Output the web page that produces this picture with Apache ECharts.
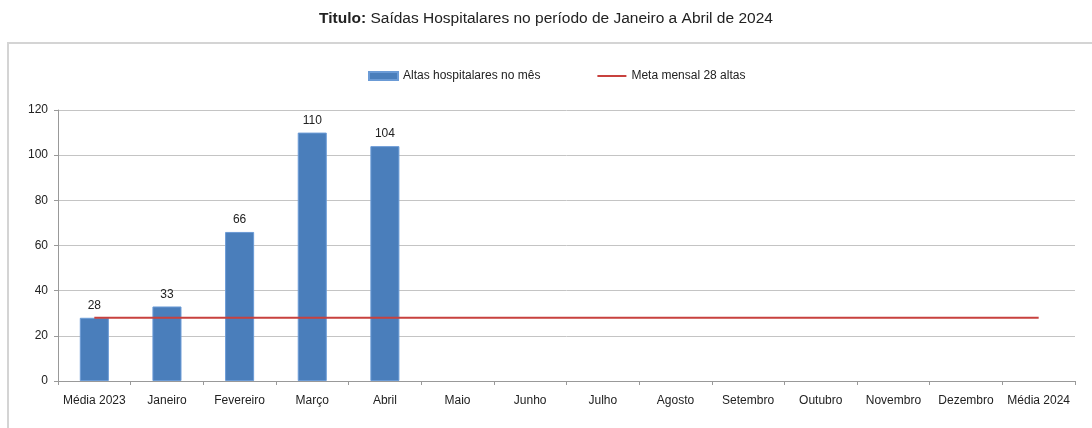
<!DOCTYPE html>
<html>
<head>
    <meta charset="utf-8"/>
    <title>Saídas Hospitalares</title>
    <style>
        html, body { margin: 0; padding: 0; background: #fff; }
        #main { width: 1092px; height: 428px; }
    </style>
</head>
<body>
<div id="main"></div>
<script src="https://cdn.jsdelivr.net/npm/echarts@6/dist/echarts.min.js"></script>
<script>
    // dados
    var meses = ['Média 2023', 'Janeiro', 'Fevereiro', 'Março', 'Abril', 'Maio', 'Junho',
        'Julho', 'Agosto', 'Setembro', 'Outubro', 'Novembro', 'Dezembro', 'Média 2024'];
    var altas = [28, 33, 66, 110, 104, null, null, null, null, null, null, null, null, null];
    var meta = [28, 28, 28, 28, 28, 28, 28, 28, 28, 28, 28, 28, 28, 28];
    var yTicks = [0, 20, 40, 60, 80, 100, 120];

    var fonte = 'Liberation Sans, Arial, sans-serif';

    var option = {
        animation: false,
        title: {
            text: '{b|Titulo:} Saídas Hospitalares no período de Janeiro a Abril de 2024',
            left: 'center',
            top: 6,
            textStyle: {
                fontFamily: fonte,
                fontSize: 15.5,
                fontWeight: 'normal',
                color: '#222',
                rich: {
                    b: { fontFamily: fonte, fontSize: 15.5, fontWeight: 'bold', color: '#222' }
                }
            }
        },
        graphic: [{
            type: 'rect',
            shape: { x: 8, y: 43, width: 1100, height: 400 },
            style: { fill: 'none', stroke: '#d4d4d4', lineWidth: 2 },
            silent: true
        }],
        legend: {
            left: 363,
            top: 65,
            itemWidth: 29,
            itemHeight: 8,
            itemGap: 56,
            textStyle: { fontFamily: fonte, fontSize: 12, color: '#222' },
            data: [
                { name: 'Altas hospitalares no mês', icon: 'rect' },
                { name: 'Meta mensal 28 altas', itemStyle: { opacity: 0 } }
            ]
        },
        grid: { left: 58, right: 17, top: 110, bottom: 47 },
        xAxis: {
            type: 'category',
            data: meses,
            axisLine: { lineStyle: { color: '#999' } },
            axisTick: { show: true, length: 4, lineStyle: { color: '#999' } },
            axisLabel: { fontFamily: fonte, fontSize: 12, color: '#222', margin: 14, interval: 0 }
        },
        yAxis: {
            type: 'value',
            min: yTicks[0],
            max: yTicks[yTicks.length - 1],
            interval: 20,
            axisLine: { show: true, lineStyle: { color: '#999' } },
            axisTick: { show: true, length: 4, lineStyle: { color: '#999' } },
            axisLabel: { fontFamily: fonte, fontSize: 12, color: '#222', margin: 10 },
            splitLine: { lineStyle: { color: '#c4c4c4' } }
        },
        series: [
            {
                name: 'Altas hospitalares no mês',
                type: 'bar',
                data: altas,
                barWidth: '40%',
                itemStyle: { color: '#4a7ebb', borderColor: '#6b9bd6', borderWidth: 1 },
                label: {
                    show: true,
                    position: 'top',
                    distance: 6,
                    fontFamily: fonte,
                    fontSize: 12,
                    color: '#222'
                }
            },
            {
                name: 'Meta mensal 28 altas',
                type: 'line',
                data: meta,
                symbol: 'none',
                lineStyle: { color: '#c8413e', width: 2 },
                itemStyle: { color: '#c8413e' },
                z: 3
            }
        ]
    };

    var myChart = echarts.init(document.getElementById('main'));
    myChart.setOption(option);
</script>
</body>
</html>
